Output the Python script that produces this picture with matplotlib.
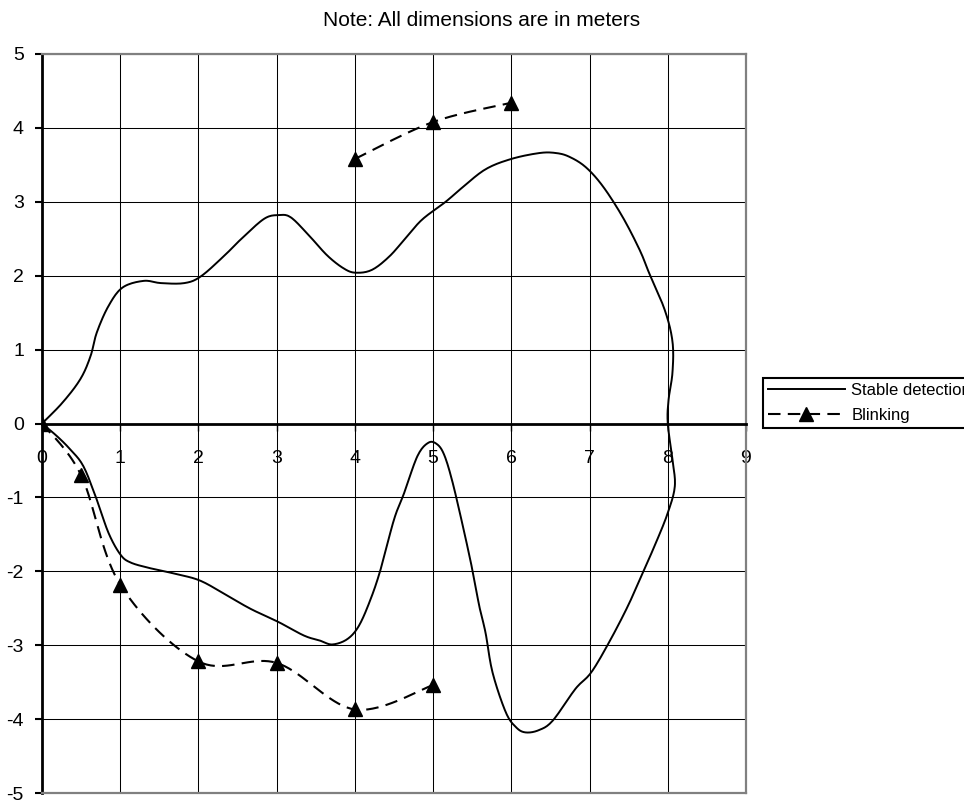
import numpy as np
import matplotlib
matplotlib.use("Agg")
import matplotlib.pyplot as plt

plt.rcParams["font.family"] = ["Liberation Sans", "DejaVu Sans"]

# Outline of the stable detection zone (x, y in meters), traced around the sensor
stable_x = [0.00, 0.26, 0.49, 0.62, 0.70, 0.85, 1.03, 1.30, 1.52, 1.82, 2.03, 2.33,
            2.54, 2.84, 3.03, 3.18, 3.40, 3.65, 3.87, 4.02, 4.22, 4.44, 4.65, 4.86,
            5.16, 5.37, 5.67, 6.00, 6.36, 6.57, 6.74, 6.95, 7.17, 7.42, 7.64, 7.76,
            7.96, 8.06, 8.06, 8.01, 8.00, 8.06, 8.09, 8.00, 7.85, 7.68, 7.49, 7.25,
            7.02, 6.82, 6.53, 6.35, 6.18, 6.06, 5.93, 5.76, 5.67, 5.59, 5.50, 5.37,
            5.24, 5.14, 5.05, 4.94, 4.80, 4.63, 4.50, 4.33, 4.20, 4.05, 3.90, 3.71,
            3.56, 3.35, 3.03, 2.67, 2.37, 2.03, 1.73, 1.39, 1.13, 1.00, 0.85, 0.70,
            0.53, 0.36, 0.19, 0.00]
stable_y = [0.00, 0.28, 0.60, 0.91, 1.23, 1.59, 1.84, 1.93, 1.90, 1.90, 1.99, 2.27,
            2.49, 2.77, 2.82, 2.79, 2.56, 2.27, 2.09, 2.04, 2.08, 2.26, 2.51, 2.76,
            3.00, 3.19, 3.44, 3.58, 3.66, 3.66, 3.61, 3.47, 3.21, 2.80, 2.35, 2.04,
            1.54, 1.11, 0.69, 0.32, 0.00, -0.49, -0.85, -1.21, -1.61, -2.02, -2.47, -2.96,
            -3.37, -3.59, -4.02, -4.15, -4.18, -4.11, -3.91, -3.37, -2.83, -2.47, -1.97, -1.34,
            -0.76, -0.42, -0.28, -0.26, -0.44, -0.94, -1.30, -1.97, -2.38, -2.74, -2.92, -2.99,
            -2.94, -2.87, -2.69, -2.51, -2.33, -2.13, -2.04, -1.96, -1.88, -1.77, -1.48, -1.03,
            -0.58, -0.35, -0.17, 0.00]

# Blinking detection points; NaN separates the two runs of the series
blink_x = [0.0, 0.5, 1.0, 2.0, 3.0, 4.0, 5.0, np.nan, 4.0, 5.0, 6.0]
blink_y = [0.0, -0.70, -2.18, -3.22, -3.24, -3.87, -3.54, np.nan, 3.58, 4.08, 4.34]

x_ticks = list(range(0, 10))
y_ticks = list(range(-5, 6))


def smooth(xs, ys, n=20):
    """Catmull-Rom style smoothing, applied to each NaN-free run."""
    xs = np.asarray(xs, float)
    ys = np.asarray(ys, float)
    out_x, out_y = [], []
    breaks = np.where(np.isnan(xs))[0]
    starts = np.concatenate([[0], breaks + 1])
    ends = np.concatenate([breaks, [len(xs)]])
    for s, e in zip(starts, ends):
        p = np.column_stack([xs[s:e], ys[s:e]])
        p = np.vstack([p[0], p, p[-1]])
        t = np.linspace(0, 1, n)[:, None]
        seg = []
        for i in range(1, len(p) - 2):
            p0, p1, p2, p3 = p[i - 1], p[i], p[i + 1], p[i + 2]
            c1 = p1 + (p2 - p0) / 6
            c2 = p2 - (p3 - p1) / 6
            b = ((1 - t) ** 3) * p1 + 3 * ((1 - t) ** 2) * t * c1 \
                + 3 * (1 - t) * t ** 2 * c2 + t ** 3 * p2
            seg.append(b if i == 1 else b[1:])
        seg = np.vstack(seg)
        out_x.extend(seg[:, 0])
        out_y.extend(seg[:, 1])
        out_x.append(np.nan)
        out_y.append(np.nan)
    return np.array(out_x[:-1]), np.array(out_y[:-1])


fig = plt.figure(figsize=(9.64, 8.0), dpi=100)
ax = fig.add_axes([42 / 964, 7 / 800, 704 / 964, 739 / 800])

sx, sy = smooth(stable_x, stable_y, n=12)
line_stable, = ax.plot(sx, sy, color="black", lw=1.4, label="Stable detection",
                       zorder=3)

dash = (0, (6, 3.5))
bx, by = smooth(blink_x, blink_y)
ax.plot(bx, by, color="black", lw=1.5, linestyle=dash, zorder=3)
ax.plot(blink_x, blink_y, linestyle="none", marker="^", color="black",
        markersize=10, zorder=4)
# proxy for the legend entry (dashed line with marker)
blink_handle, = ax.plot([], [], color="black", lw=1.5, linestyle=dash,
                        marker="^", markersize=10, label="Blinking")

ax.set_xlim(0, 9)
ax.set_ylim(-5, 5)
ax.set_xticks(x_ticks)
ax.set_yticks(y_ticks)
ax.set_xticklabels([str(v) for v in x_ticks])
ax.set_yticklabels([str(v) for v in y_ticks])

ax.set_axisbelow(True)
ax.grid(True, color="black", lw=0.75)

ax.spines["bottom"].set_position(("data", 0))
ax.spines["bottom"].set_linewidth(2)
ax.spines["left"].set_linewidth(2)
for side in ("top", "right"):
    ax.spines[side].set_color("#808080")
    ax.spines[side].set_linewidth(1.6)
ax.axhline(-5, color="#808080", lw=1.6, clip_on=False, zorder=2.6)

ax.tick_params(axis="x", direction="out", length=5, width=1, pad=14,
               labelsize=14, colors="black")
ax.tick_params(axis="y", direction="out", length=5, width=1.5, pad=8,
               labelsize=14, colors="black")

fig.text(0.5, 1 - 20 / 800, "Note: All dimensions are in meters",
         ha="center", va="center", fontsize=15)

leg = fig.legend(handles=[line_stable, blink_handle], loc="upper left",
                 bbox_to_anchor=(763 / 964, 1 - 378 / 800), fontsize=12,
                 frameon=True, fancybox=False, framealpha=1, edgecolor="black",
                 borderpad=0.3, handlelength=4.6, handletextpad=0.4,
                 labelspacing=0.62, borderaxespad=0, numpoints=1)
leg.get_frame().set_linewidth(1.5)

fig.savefig("out.png", dpi=100)
